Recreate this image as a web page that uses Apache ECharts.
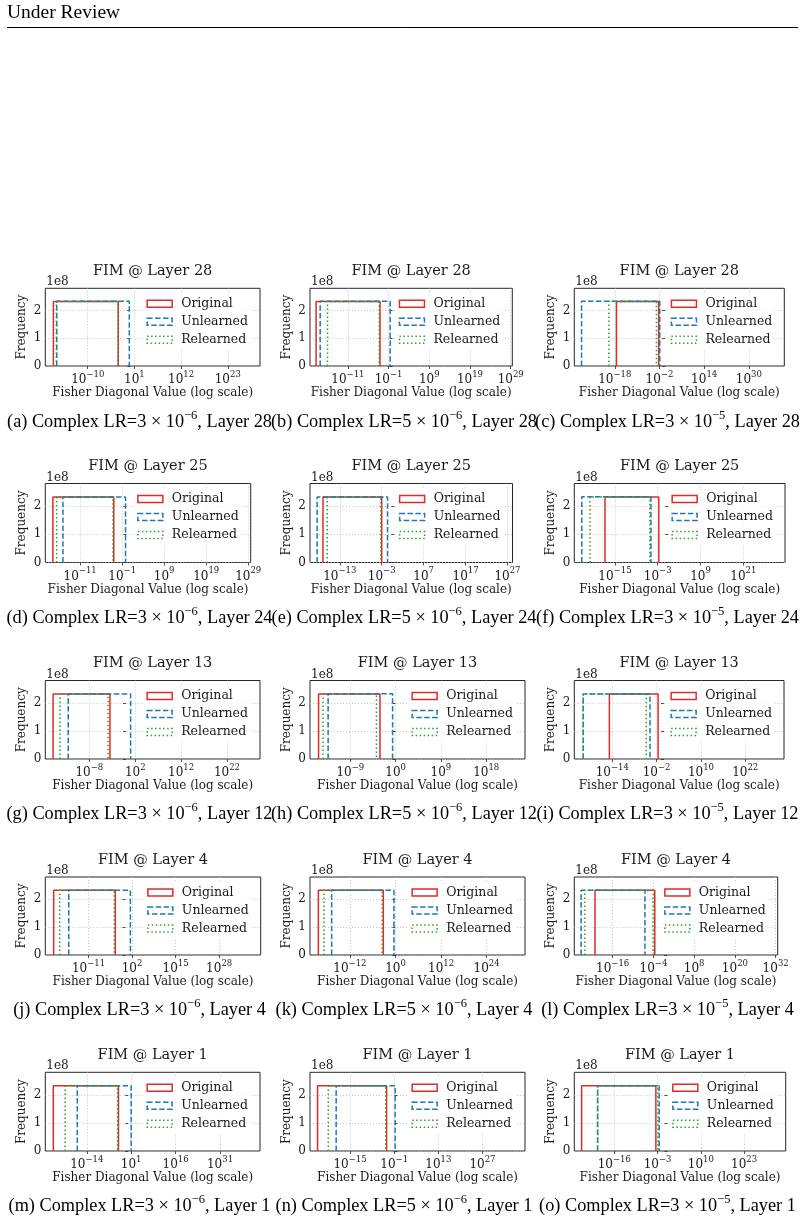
<!DOCTYPE html>
<html>
<head>
<meta charset="utf-8">
<script src="https://cdn.jsdelivr.net/npm/echarts@6/dist/echarts.min.js"></script>
<style>
  html, body { margin: 0; padding: 0; background: #fff; }
  #main { width: 805px; height: 1222px; }
</style>
</head>
<body>
<div id="main"></div>
<script>
// ---- data (x values are log10 of the Fisher diagonal value, heights in units of 1e8) ----
const panelIds = ["a", "b", "c", "d", "e", "f", "g", "h", "i", "j", "k", "l", "m", "n", "o"];
const titleLayers = [28, 28, 28, 25, 25, 25, 13, 13, 13, 4, 4, 4, 1, 1, 1];
const captionLayers = [28, 24, 12, 4, 1];          // one per row
const lrMantissa = ["3", "5", "3"];                // one per column
const lrExponent = ["−6", "−6", "−5"];
const seriesNames = ["Original", "Unlearned", "Relearned"];

const origLo = [-18.1, -18.8, -17.4, -17.5, -17.0, -17.8, -15.9, -15.3, -14.8, -21.4, -20.3, -21.2, -25.3, -25.3, -25.8];
const origHi = [-2.8, -3.1, -2.3, -3.0, -3.0, -2.7, -3.5, -3.1, -1.6, -3.0, -3.2, -3.6, -3.3, -3.4, -3.5];
const unlLo = [-17.3, -17.8, -29.9, -15.1, -18.4, -24.3, -12.6, -13.4, -21.9, -16.9, -16.8, -25.3, -17.2, -19.4, -21.0];
const unlHi = [-0.2, -0.6, -1.9, -0.2, -1.6, -4.9, 1.0, -0.6, -3.8, 1.5, -0.4, -6.5, 1.0, -0.7, -2.5];
const relLo = [-17.4, -16.0, -20.1, -16.6, -16.0, -22.0, -14.4, -14.4, -21.9, -19.6, -18.8, -24.2, -21.3, -21.9, -21.0];
const relHi = [-2.9, -3.3, -3.1, -3.2, -3.2, -5.2, -3.9, -3.8, -4.8, -3.3, -3.5, -4.1, -3.6, -3.7, -2.9];
const origH = [2.32, 2.32, 2.32, 2.32, 2.32, 2.32, 2.32, 2.32, 2.32, 2.32, 2.32, 2.32, 2.32, 2.32, 2.32];
const unlH = [2.33, 2.33, 2.33, 2.32, 2.32, 2.33, 2.32, 2.33, 2.32, 2.32, 2.32, 2.32, 2.32, 2.32, 2.32];
const relH = [2.32, 2.32, 2.32, 2.32, 2.32, 2.32, 2.32, 2.32, 2.32, 2.32, 2.32, 2.32, 2.32, 2.32, 2.32];

const xMin = [-20.0, -20.3, -32.5, -19.3, -20.1, -26.4, -17.6, -17.0, -24.3, -23.9, -22.5, -27.3, -28.0, -27.7, -28.0];
const xMax = [30.6, 29.4, 42.7, 29.6, 28.2, 32.7, 29.2, 25.7, 32.5, 40.4, 34.1, 32.6, 44.5, 40.5, 35.5];
const xTicks = [
  [-10, 1, 12, 23], [-11, -1, 9, 19, 29], [-18, -2, 14, 30],
  [-11, -1, 9, 19, 29], [-13, -3, 7, 17, 27], [-15, -3, 9, 21],
  [-8, 2, 12, 22], [-9, 0, 9, 18], [-14, -2, 10, 22],
  [-11, 2, 15, 28], [-12, 0, 12, 24], [-16, -4, 8, 20, 32],
  [-14, 1, 16, 31], [-15, -1, 13, 27], [-16, -3, 10, 23]
];
const yTicks = [0, 1, 2];
const yMax = 2.8;

// ---- layout ----
const axLeft = [45.3, 310, 574.3, 45.3, 310, 574.3, 45.3, 310, 574.3, 45.3, 310, 574.3, 45.3, 310, 574.3];
const axRight = [260, 512.3, 784.3, 250.7, 512.5, 785, 260, 525, 784, 260.7, 525, 777.7, 260, 525, 785.7];
const rowTop = [288.3, 483.5, 680.5, 877, 1072.3];
const rowBottom = [366, 562.5, 759, 955, 1151];
const captionX = [139.5, 404, 667.5];
const captionY = [420, 616, 812, 1008, 1204];

const ink = "#1a1a1a";
const serif = "DejaVu Serif";
const times = "Liberation Serif";
const colors = ["#e02b2b", "#1f77b4", "#2ca02c"];
const dashes = ["solid", [5.5, 2.4], [1.5, 2.5]];

const fmtExp = v => (v < 0 ? "−" + (-v) : String(v));

const grids = [], xAxes = [], yAxes = [], series = [], legends = [], graphics = [];

graphics.push({
  type: "text", left: 7, top: 3,
  style: { text: "Under Review", font: `19.5px "${times}"`, fill: "#000" }
});
graphics.push({
  type: "line", shape: { x1: 7, y1: 27.5, x2: 798, y2: 27.5 },
  style: { stroke: "#000", lineWidth: 1 }
});

const lows = [origLo, unlLo, relLo], highs = [origHi, unlHi, relHi], hs = [origH, unlH, relH];

for (let i = 0; i < 15; i++) {
  const r = Math.floor(i / 3), c = i % 3;
  const L = axLeft[i], R = axRight[i], T = rowTop[r], B = rowBottom[r];

  grids.push({
    left: L, top: T, width: R - L, height: B - T,
    show: true, borderColor: "#262626", borderWidth: 1, backgroundColor: "transparent"
  });

  xAxes.push({
    type: "value", gridIndex: i, min: xMin[i], max: xMax[i],
    axisLine: { show: false },
    axisTick: { show: true, length: 3, customValues: xTicks[i], lineStyle: { color: "#262626", width: 0.8 } },
    axisLabel: {
      customValues: xTicks[i], margin: 4, color: ink,
      formatter: v => "{b|10}{s|" + fmtExp(v) + "}",
      rich: {
        b: { fontFamily: serif, fontSize: 12, color: ink, verticalAlign: "bottom", lineHeight: 16 },
        s: { fontFamily: serif, fontSize: 8.5, color: ink, verticalAlign: "top", lineHeight: 10 }
      }
    },
    splitLine: { show: true, lineStyle: { color: "#b8b8b8", width: 0.8, type: [1, 2] } },
    name: "Fisher Diagonal Value (log scale)", nameLocation: "middle", nameGap: 19,
    nameTextStyle: { fontFamily: serif, fontSize: 12, color: ink }
  });

  yAxes.push({
    type: "value", gridIndex: i, min: 0, max: yMax,
    axisLine: { show: false },
    axisTick: { show: true, length: 3, customValues: yTicks, lineStyle: { color: "#262626", width: 0.8 } },
    axisLabel: { customValues: yTicks, margin: 4, color: ink, fontFamily: serif, fontSize: 12 },
    splitLine: { show: true, lineStyle: { color: "#b8b8b8", width: 0.8, type: [1, 2] } },
    name: "Frequency", nameLocation: "middle", nameGap: 17, nameRotate: 90,
    nameTextStyle: { fontFamily: serif, fontSize: 12, color: ink }
  });

  for (let k = 0; k < 3; k++) {
    const lo = lows[k][i], hi = highs[k][i], h = hs[k][i];
    series.push({
      type: "line", name: seriesNames[k], xAxisIndex: i, yAxisIndex: i,
      data: [[lo, 0], [lo, h], [hi, h], [hi, 0]],
      symbol: "none", silent: true, z: 3 + k,
      itemStyle: { color: colors[k] },
      lineStyle: { color: colors[k], width: 1.5, type: dashes[k] }
    });
  }

  legends.push({
    orient: "vertical", right: 805 - R + 9, top: T + 6,
    itemWidth: 25, itemHeight: 7, itemGap: 3, padding: [2, 3, 2, 3],
    backgroundColor: "rgba(255,255,255,0.85)", selectedMode: false,
    textStyle: { fontFamily: serif, fontSize: 12.5, color: ink, lineHeight: 15, padding: [0, 0, 0, 4] },
    data: seriesNames.map((n, k) => ({
      name: n, icon: "rect",
      itemStyle: { color: "rgba(0,0,0,0)", borderColor: colors[k], borderWidth: 1.5, borderType: dashes[k] }
    }))
  });

  graphics.push({
    type: "text", x: (L + R) / 2, y: T - 17,
    style: { text: "FIM @ Layer " + titleLayers[i], font: `14.5px "${serif}"`, fill: ink, align: "center", verticalAlign: "middle" }
  });
  graphics.push({
    type: "text", x: L + 1, y: T - 6,
    style: { text: "1e8", font: `12px "${serif}"`, fill: ink, align: "left", verticalAlign: "middle" }
  });
  graphics.push({
    type: "text", x: captionX[c], y: captionY[r],
    style: {
      text: "{n|(" + panelIds[i] + ") Complex LR=" + lrMantissa[c] + " × 10}{s|" + lrExponent[c] + "}{n|, Layer " + captionLayers[r] + "}",
      align: "center", verticalAlign: "middle",
      rich: {
        n: { fontFamily: times, fontSize: 18.3, fill: "#000", verticalAlign: "bottom", lineHeight: 22 },
        s: { fontFamily: times, fontSize: 12.5, fill: "#000", verticalAlign: "top", lineHeight: 12 }
      }
    }
  });
}

const chart = echarts.init(document.getElementById("main"), null, { renderer: "canvas" });
chart.setOption({
  animation: false,
  backgroundColor: "#fff",
  grid: grids,
  xAxis: xAxes,
  yAxis: yAxes,
  legend: legends,
  series: series,
  graphic: graphics
});
</script>
</body>
</html>
